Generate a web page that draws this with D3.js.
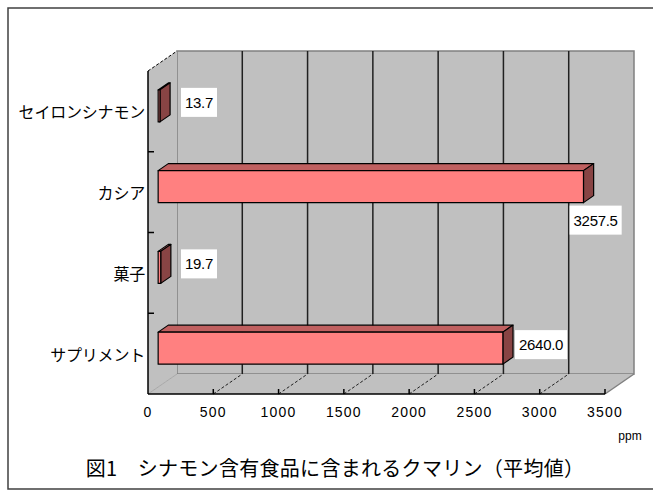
<!DOCTYPE html>
<html>
<head>
<meta charset="utf-8">
<script src="https://cdn.jsdelivr.net/npm/d3@7"></script>
<style>
  body { margin: 0; background: #fff; }
  svg { display: block; }
  .jp { font-family: "Noto Sans CJK JP", sans-serif; }
  .num { font-family: "Liberation Sans", Arial, sans-serif; }
</style>
</head>
<body>
<div id="chart"></div>
<script>
// Chart data.
var categories = ["セイロンシナモン", "カシア", "菓子", "サプリメント"];
var values = [13.7, 3257.5, 19.7, 2640.0];
var labels = ["13.7", "3257.5", "19.7", "2640.0"];
var xTicks = [0, 500, 1000, 1500, 2000, 2500, 3000, 3500];
var title = "図1　シナモン含有食品に含まれるクマリン（平均値）";
var unit = "ppm";

var width = 653, height = 491;
var svg = d3.select("#chart").append("svg")
  .attr("width", width)
  .attr("height", height);

// Outer frame (no right edge in the picture).
svg.append("path")
  .attr("d", "M653,8 L8,8 L8,489 L653,489")
  .attr("fill", "none")
  .attr("stroke", "#404040")
  .attr("stroke-width", 1.5);

// Front plane scales, depth goes up and to the right.
var x = d3.scaleLinear().domain([0, 3500]).range([148, 605]);
var y = d3.scaleBand().domain(categories).range([71, 394]);
var depthX = 29, depthY = 20;
function proj(px, py, z) {
  return [px + z * depthX, py - z * depthY];
}
function poly(points) {
  return points.map(function(p) { return p.join(","); }).join(" ");
}

var grey = "#c0c0c0";
var x0 = x(0), x1 = x(3500), yTop = y.range()[0], yBot = y.range()[1];

// Back wall.
var back = [proj(x0, yTop, 1), proj(x1, yTop, 1), proj(x1, yBot, 1), proj(x0, yBot, 1)];
svg.append("polygon").attr("points", poly(back))
  .attr("fill", grey).attr("stroke", "#808080").attr("stroke-width", 1.5);

// Left wall.
var side = [[x0, yTop], proj(x0, yTop, 1), proj(x0, yBot, 1), [x0, yBot]];
svg.append("polygon").attr("points", poly(side)).attr("fill", grey);

// Floor.
var floor = [[x0, yBot], proj(x0, yBot, 1), proj(x1, yBot, 1), [x1, yBot]];
svg.append("polygon").attr("points", poly(floor)).attr("fill", grey);

// Floor edges.
svg.append("line")
  .attr("x1", x0).attr("y1", yBot)
  .attr("x2", proj(x0, yBot, 1)[0]).attr("y2", proj(x0, yBot, 1)[1])
  .attr("stroke", "#a8a8a8");
svg.append("line")
  .attr("x1", x1).attr("y1", yBot)
  .attr("x2", proj(x1, yBot, 1)[0]).attr("y2", proj(x1, yBot, 1)[1])
  .attr("stroke", "#808080").attr("stroke-width", 1.5);

// Gridlines on the back wall and dashed lines on the floor.
var inner = xTicks.slice(1, xTicks.length - 1);
svg.selectAll(".grid").data(inner).enter().append("line")
  .attr("class", "grid")
  .attr("x1", function(d) { return proj(x(d), yTop, 1)[0]; })
  .attr("x2", function(d) { return proj(x(d), yBot, 1)[0]; })
  .attr("y1", proj(0, yTop, 1)[1])
  .attr("y2", proj(0, yBot, 1)[1])
  .attr("stroke", "#202020").attr("stroke-width", 1.5);
svg.selectAll(".floorgrid").data(inner).enter().append("line")
  .attr("class", "floorgrid")
  .attr("x1", function(d) { return x(d); })
  .attr("y1", yBot)
  .attr("x2", function(d) { return proj(x(d), yBot, 1)[0]; })
  .attr("y2", proj(0, yBot, 1)[1])
  .attr("stroke", "#202020").attr("stroke-dasharray", "3,2");

// Axis lines at the front.
svg.append("line").attr("x1", x0).attr("y1", yTop).attr("x2", x0).attr("y2", yBot)
  .attr("stroke", "#000").attr("stroke-width", 1.5);
svg.append("line").attr("x1", x0).attr("y1", yBot).attr("x2", x1).attr("y2", yBot)
  .attr("stroke", "#000").attr("stroke-width", 1.5);
svg.append("line")
  .attr("x1", x0).attr("y1", yTop)
  .attr("x2", proj(x0, yTop, 1)[0]).attr("y2", proj(x0, yTop, 1)[1])
  .attr("stroke", "#000").attr("stroke-dasharray", "3,2");

// Ticks on the front edges.
svg.selectAll(".xtick").data(xTicks.slice(1)).enter().append("line")
  .attr("class", "xtick")
  .attr("x1", function(d) { return x(d); }).attr("x2", function(d) { return x(d); })
  .attr("y1", yBot).attr("y2", yBot - 5)
  .attr("stroke", "#000").attr("stroke-width", 1.5);
svg.selectAll(".ytick").data(categories.slice(1)).enter().append("line")
  .attr("class", "ytick")
  .attr("x1", x0).attr("x2", x0 + 6)
  .attr("y1", function(d) { return y(d); }).attr("y2", function(d) { return y(d); })
  .attr("stroke", "#000").attr("stroke-width", 1.5);

// X tick labels.
svg.selectAll(".xlabel").data(xTicks).enter().append("text")
  .attr("class", "xlabel num")
  .attr("x", function(d) { return x(d); })
  .attr("y", 417)
  .attr("text-anchor", "middle")
  .attr("font-size", 14)
  .attr("letter-spacing", 1.2)
  .text(function(d) { return d; });

// Category labels.
svg.selectAll(".ylabel").data(categories).enter().append("text")
  .attr("class", "ylabel jp")
  .attr("x", 145)
  .attr("y", function(d) { return y(d) + y.bandwidth() / 2 + 7; })
  .attr("text-anchor", "end")
  .attr("font-size", 16)
  .attr("letter-spacing", -0.2)
  .text(function(d) { return d; });

// 3D bars.
var zf = 0.35, zb = 0.7, barH = 32;
var bars = svg.selectAll(".bar").data(values).enter().append("g").attr("class", "bar");
function barCenter(i) { return y(categories[i]) + y.bandwidth() / 2 + 1.5; }
bars.append("polygon")
  .attr("points", function(d, i) {
    var t = barCenter(i) - barH / 2;
    return poly([proj(x0, t, zf), proj(x(d), t, zf), proj(x(d), t, zb), proj(x0, t, zb)]);
  })
  .attr("fill", "#c06060").attr("stroke", "#000").attr("stroke-width", 1.2)
  .attr("stroke-linejoin", "round");
bars.append("polygon")
  .attr("points", function(d, i) {
    var t = barCenter(i) - barH / 2, b = barCenter(i) + barH / 2;
    return poly([proj(x(d), t, zf), proj(x(d), b, zf), proj(x(d), b, zb), proj(x(d), t, zb)]);
  })
  .attr("fill", "#884444").attr("stroke", "#000").attr("stroke-width", 1.2)
  .attr("stroke-linejoin", "round");
bars.append("polygon")
  .attr("points", function(d, i) {
    var t = barCenter(i) - barH / 2, b = barCenter(i) + barH / 2;
    return poly([proj(x0, t, zf), proj(x(d), t, zf), proj(x(d), b, zf), proj(x0, b, zf)]);
  })
  .attr("fill", "#ff8080").attr("stroke", "#000").attr("stroke-width", 1.2)
  .attr("stroke-linejoin", "round");

// Data labels in white boxes.
var wallRight = proj(x1, 0, 1)[0];
var lab = svg.selectAll(".dlabel").data(values).enter().append("g").attr("class", "dlabel");
lab.append("text")
  .attr("class", "num")
  .attr("font-size", 15)
  .attr("letter-spacing", -0.3)
  .text(function(d, i) { return labels[i]; });
lab.each(function(d, i) {
  var g = d3.select(this);
  var tw = g.select("text").node().getComputedTextLength();
  var bw = tw + 8, bh = 29;
  var endX = proj(x(d), 0, zb)[0];
  var midY = barCenter(i) - (zf + zb) / 2 * depthY;
  var bx = Math.max(endX + 2, proj(x0, 0, 1)[0] + 4), by = midY - bh / 2;
  if (bx + bw > wallRight) {
    // no room on the right: put it below the bar end
    bx = endX + 2 - bw / 2;
    by = barCenter(i) - zf * depthY + barH / 2 + 3;
  }
  g.insert("rect", "text")
    .attr("x", bx).attr("y", by).attr("width", bw).attr("height", bh)
    .attr("fill", "#fff");
  g.select("text").attr("x", bx + 4).attr("y", by + bh / 2 + 5.5);
});

// Unit and title.
svg.append("text").attr("class", "num")
  .attr("x", 630).attr("y", 440)
  .attr("text-anchor", "middle")
  .attr("font-size", 12)
  .text(unit);
svg.append("text").attr("class", "jp")
  .attr("x", 335).attr("y", 476)
  .attr("text-anchor", "middle")
  .attr("font-size", 20)
  .attr("letter-spacing", 0.3)
  .text(title);
</script>
</body>
</html>
